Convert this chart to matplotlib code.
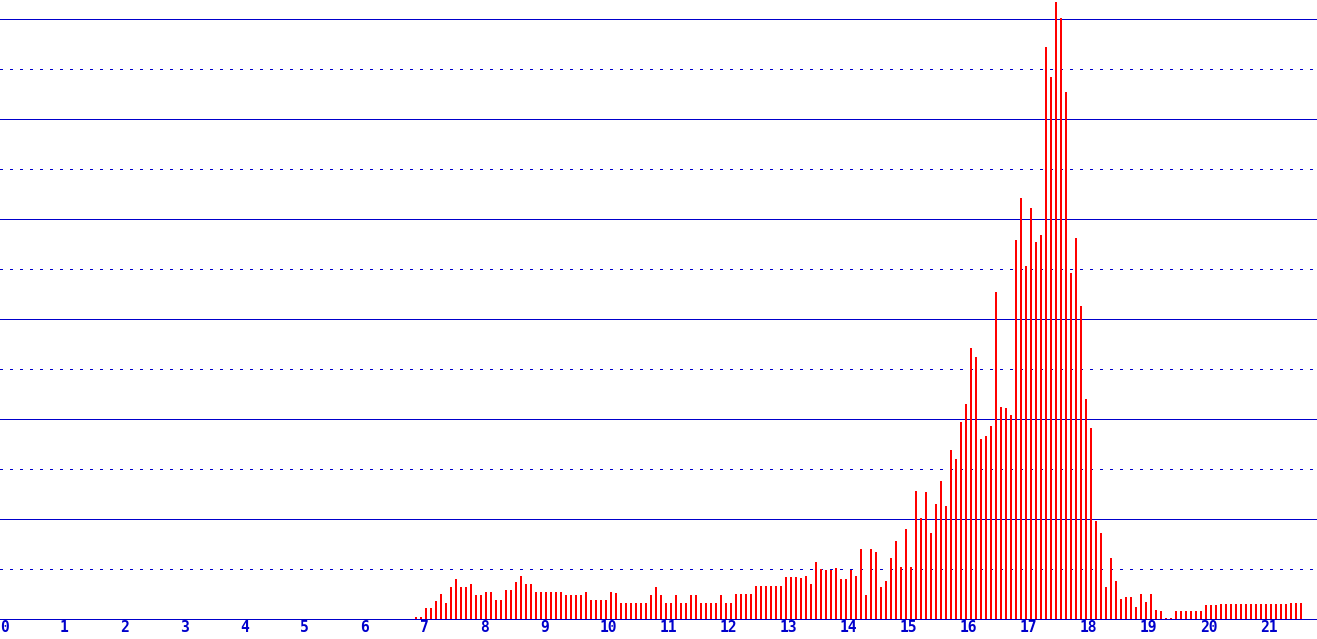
import numpy as np
import matplotlib.pyplot as plt

# 5-minute bars, first one at 06:55
start_minute = 6 * 60 + 55
step_minutes = 5

counts = [
    2, 2, 11, 11, 18, 25, 16, 32, 40, 32, 32, 35, 24, 24, 27, 27, 19, 19, 29, 29,
    37, 43, 35, 35, 27, 27, 27, 27, 27, 27, 24, 24, 24, 24, 27, 19, 19, 19, 19, 27,
    26, 16, 16, 16, 16, 16, 16, 24, 32, 24, 16, 16, 24, 16, 16, 24, 24, 16, 16, 16,
    16, 24, 16, 16, 25, 25, 25, 25, 33, 33, 33, 33, 33, 33, 42, 42, 42, 41, 43, 35,
    57, 50, 49, 49, 51, 40, 40, 49, 43, 70, 24, 70, 67, 32, 38, 61, 78, 52, 90, 52,
    128, 101, 127, 86, 115, 138, 113, 169, 160, 197, 215, 271, 262, 180, 183, 193, 327, 212, 211, 204,
    379, 421, 353, 411, 377, 384, 572, 542, 617, 601, 527, 346, 381, 313, 220, 191, 98, 86, 32, 61,
    38, 20, 22, 22, 12, 25, 17, 25, 9, 8, 1, 1, 8, 8, 8, 8, 8, 8, 14, 14,
    14, 15, 15, 15, 15, 15, 15, 15, 15, 15, 15, 15, 15, 15, 15, 16, 16, 16,
]
hour_labels = [str(h) for h in range(22)]

bar_color = '#ff0000'
line_color = '#0000cc'

minutes = start_minute + step_minutes * np.arange(len(counts))

fig = plt.figure(figsize=(13.17, 6.39), dpi=100)
ax = fig.add_axes([0, 0, 1, 1])
ax.set_xlim(0, 1317)
ax.set_ylim(-20, 619)
ax.axis('off')

# grid: solid every 100, dotted in between (1 px lines, no smoothing)
for y in range(50, 601, 50):
    if y % 100 == 0:
        ax.axhline(y + 0.5, color=line_color, lw=0.72, antialiased=False)
    else:
        ax.axhline(y + 0.5, color=line_color, lw=0.72, antialiased=False,
                   linestyle=(0, (2.8, 7.2)))
ax.axhline(0.5, color=line_color, lw=0.72, antialiased=False, zorder=3)

ax.bar(minutes, counts, width=2, align='edge', color=bar_color, lw=0,
       antialiased=False, zorder=2)

for h, lab in enumerate(hour_labels):
    ax.text(h * 60, -1.5, lab, ha='left', va='top', color=line_color,
            fontsize=10.5, family='DejaVu Sans Mono', fontweight='bold')

fig.savefig('out.png', dpi=100)
